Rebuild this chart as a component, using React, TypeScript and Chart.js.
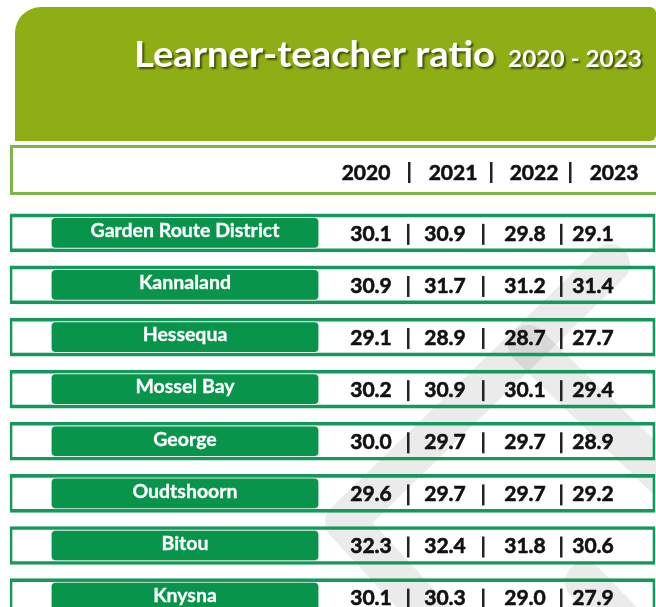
import React, { useEffect, useRef } from "react";
import { Chart, registerables } from "chart.js";

Chart.register(...registerables);

// ---- data ----
const titleMain = "Learner-teacher ratio";
const titleYears = "2020 - 2023";
const years = ["2020", "2021", "2022", "2023"];
const districts = [
  "Garden Route District",
  "Kannaland",
  "Hessequa",
  "Mossel Bay",
  "George",
  "Oudtshoorn",
  "Bitou",
  "Knysna",
];
const ratio2020 = [30.1, 30.9, 29.1, 30.2, 30.0, 29.6, 32.3, 30.1];
const ratio2021 = [30.9, 31.7, 28.9, 30.9, 29.7, 29.7, 32.4, 30.3];
const ratio2022 = [29.8, 31.2, 28.7, 30.1, 29.7, 29.7, 31.8, 29.0];
const ratio2023 = [29.1, 31.4, 27.7, 29.4, 28.9, 29.2, 30.6, 27.9];
const seriesByYear = [ratio2020, ratio2021, ratio2022, ratio2023];

// ---- layout (x in a 0..656 table unit scale) ----
const FRAME_SPAN = [10, 655];
const PILL_SPAN = [51, 319];
const VALUE_CENTERS = [371, 445, 525, 593];
const VALUE_SEPS = [408, 483, 561];
const HEADER_CENTERS = [366, 453, 534, 614];
const HEADER_SEPS = [409, 491, 570];

const FONT = "Lato, 'Open Sans', sans-serif";

function fitText(ctx: CanvasRenderingContext2D, text: string, x: number, y: number, w: number) {
  const m = ctx.measureText(text).width;
  ctx.save();
  ctx.translate(x, y);
  ctx.scale(w / m, 1);
  ctx.textAlign = "left";
  ctx.fillText(text, 0, 0);
  ctx.restore();
}

function boldText(ctx: CanvasRenderingContext2D, text: string, x: number, y: number, weight: number) {
  ctx.fillText(text, x, y);
  ctx.lineWidth = weight;
  ctx.strokeStyle = ctx.fillStyle as string;
  ctx.strokeText(text, x, y);
}

const decorPlugin = {
  id: "tableDecor",
  beforeDraw(chart: any) {
    const ctx: CanvasRenderingContext2D = chart.ctx;
    ctx.save();
    ctx.fillStyle = "#ffffff";
    ctx.fillRect(0, 0, chart.width, chart.height);

    // title banner
    ctx.fillStyle = "#8fae16";
    ctx.beginPath();
    (ctx as any).roundRect(15, 7, 641, 134, [26, 6, 6, 0]);
    ctx.fill();

    ctx.fillStyle = "#ffffff";
    ctx.shadowColor = "rgba(0,0,0,0.55)";
    ctx.shadowOffsetX = 2;
    ctx.shadowOffsetY = 2;
    ctx.shadowBlur = 2;
    ctx.textBaseline = "alphabetic";
    ctx.font = `bold 36px ${FONT}`;
    fitText(ctx, titleMain, 134, 67, 361);
    ctx.font = `bold 23px ${FONT}`;
    fitText(ctx, titleYears, 508, 67, 134);
    ctx.restore();

    // header frame
    ctx.save();
    ctx.strokeStyle = "#7db645";
    ctx.lineWidth = 3;
    ctx.strokeRect(11.5, 146.5, 650, 47);
    ctx.fillStyle = "#111111";
    ctx.font = `bold 21px ${FONT}`;
    ctx.textAlign = "center";
    ctx.textBaseline = "middle";
    const xs = chart.scales.x;
    years.forEach((yr, i) => boldText(ctx, yr, xs.getPixelForValue(HEADER_CENTERS[i]), 173, 0.6));
    ctx.fillStyle = "#222222";
    HEADER_SEPS.forEach((s) => {
      const px = Math.round(xs.getPixelForValue(s));
      ctx.fillRect(px - 1, 162, 2.5, 21);
    });
    ctx.restore();
  },
  beforeDatasetsDraw(chart: any) {
    // faint watermark
    const ctx: CanvasRenderingContext2D = chart.ctx;
    ctx.save();
    ctx.strokeStyle = "rgba(0,0,0,0.08)";
    ctx.lineWidth = 40;
    ctx.lineCap = "round";
    ctx.lineJoin = "round";
    ctx.beginPath();
    ctx.moveTo(610, 264);
    ctx.lineTo(345, 522);
    ctx.lineTo(440, 625);
    ctx.stroke();
    ctx.beginPath();
    ctx.moveTo(528, 345);
    ctx.lineTo(700, 512);
    ctx.stroke();
    ctx.beginPath();
    ctx.moveTo(585, 582);
    ctx.lineTo(650, 650);
    ctx.stroke();
    ctx.restore();
  },
  afterDatasetsDraw(chart: any) {
    const ctx: CanvasRenderingContext2D = chart.ctx;
    const xs = chart.scales.x;
    const ys = chart.scales.y;
    ctx.save();
    ctx.textBaseline = "middle";
    districts.forEach((name, i) => {
      const cy = ys.getPixelForValue(i);
      ctx.fillStyle = "#ffffff";
      ctx.font = `bold 19.5px ${FONT}`;
      ctx.textAlign = "center";
      boldText(ctx, name, xs.getPixelForValue((PILL_SPAN[0] + PILL_SPAN[1]) / 2), cy - 2, 0.3);

      ctx.fillStyle = "#111111";
      ctx.font = `bold 21px ${FONT}`;
      seriesByYear.forEach((ser, k) => {
        boldText(ctx, ser[i].toFixed(1), xs.getPixelForValue(VALUE_CENTERS[k]), cy + 1, 0.6);
      });
      ctx.fillStyle = "#222222";
      VALUE_SEPS.forEach((s) => {
        const px = Math.round(xs.getPixelForValue(s));
        ctx.fillRect(px - 1, cy - 9, 2.5, 21);
      });
    });
    ctx.restore();
  },
};

export default function App() {
  const ref = useRef<HTMLCanvasElement | null>(null);
  useEffect(() => {
    if (!ref.current) return;
    const chart = new Chart(ref.current, {
      type: "bar",
      data: {
        datasets: [
          {
            label: "frame",
            data: districts.map((_, i) => ({ y: i, x: [FRAME_SPAN[0], FRAME_SPAN[1]] })) as any,
            backgroundColor: "rgba(255,255,255,0)",
            borderColor: "#16985c",
            borderWidth: { top: 3, bottom: 3, left: 2, right: 2 } as any,
            borderSkipped: false,
            barThickness: 38,
            grouped: false,
            order: 2,
          } as any,
          {
            label: "district",
            data: districts.map((_, i) => ({ y: i, x: [PILL_SPAN[0], PILL_SPAN[1]] })) as any,
            backgroundColor: "#08944a",
            borderColor: "rgba(220,240,228,0.9)",
            borderWidth: 1,
            borderSkipped: false,
            borderRadius: 5,
            barThickness: 31,
            grouped: false,
            order: 1,
          } as any,
        ],
      },
      options: {
        indexAxis: "y",
        animation: false,
        responsive: false,
        maintainAspectRatio: false,
        events: [],
        layout: { padding: { top: 200, left: 0, right: 0, bottom: 0 } },
        plugins: { legend: { display: false }, tooltip: { enabled: false }, title: { display: false } },
        scales: {
          x: { type: "linear", min: 0, max: 656, display: false, offset: false },
          y: { type: "linear", reverse: true, min: -0.63, max: 7.18, display: false, offset: false },
        },
      } as any,
      plugins: [decorPlugin],
    });
    return () => chart.destroy();
  }, []);
  return (
    <div style={{ position: "fixed", left: 0, top: 0, width: 656, height: 607, overflow: "hidden", background: "#fff" }}>
      <canvas ref={ref} width={656} height={607} style={{ display: "block", width: 656, height: 607 }} />
    </div>
  );
}
